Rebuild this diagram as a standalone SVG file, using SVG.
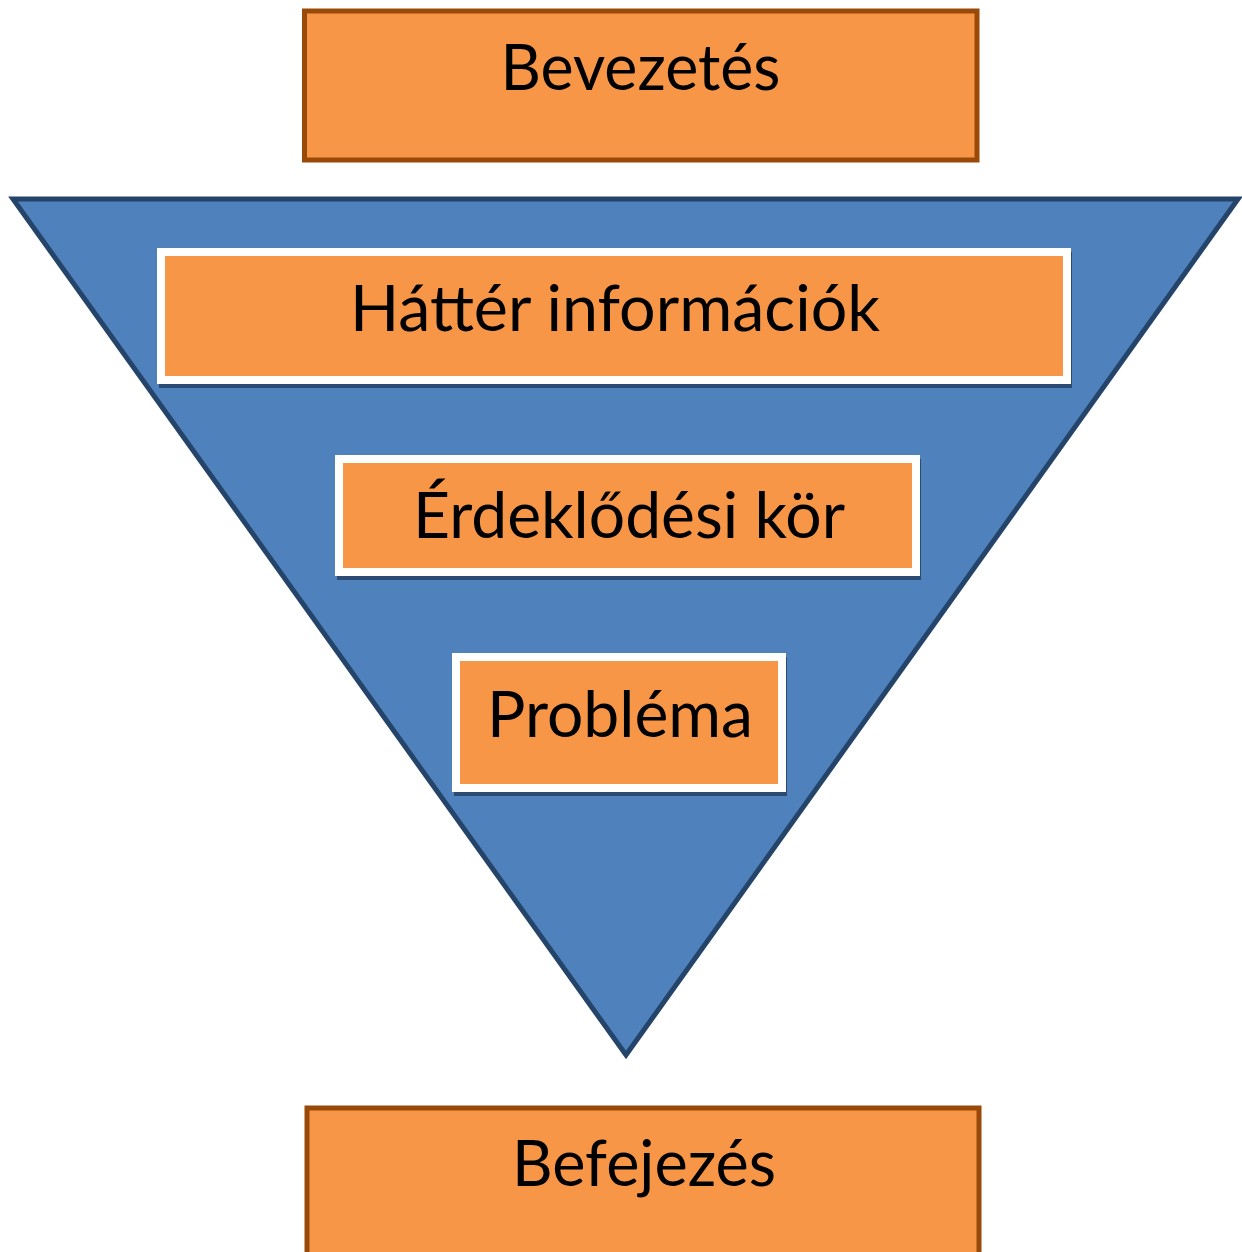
<svg xmlns="http://www.w3.org/2000/svg" width="1242" height="1252" viewBox="0 0 1242 1252">
  <style>
    .outer { fill: #F79646; stroke: #9A4A08; stroke-width: 5; }
    .inner { fill: #F79646; stroke: #FFFFFF; stroke-width: 8; }
    .shadow { fill: #2B4B72; }
    .funnel { fill: #4F81BD; stroke: #254469; stroke-width: 5; stroke-linejoin: miter; }
    .lbl { font-family: Lato, "Open Sans", "Liberation Sans", sans-serif; font-size: 63px; fill: #000000; text-anchor: middle; }
  </style>
  <rect width="1242" height="1252" fill="#FFFFFF"/>
  <g id="bevezetes">
    <rect class="outer" x="304.5" y="11" width="672.5" height="149"/>
    <text class="lbl" x="640.5" y="90" textLength="280" lengthAdjust="spacingAndGlyphs">Bevezetés</text>
  </g>
  <g id="funnel">
    <polygon class="funnel" points="13,199 1238,199 626,1055"/>
  </g>
  <g id="hatter">
    <rect class="shadow" x="159" y="252" width="913" height="136"/>
    <rect class="inner" x="161" y="252" width="906" height="128"/>
    <text class="lbl" x="615" y="331" textLength="530" lengthAdjust="spacingAndGlyphs">Háttér információk</text>
  </g>
  <g id="erdeklodesi">
    <rect class="shadow" x="337" y="459" width="584" height="121"/>
    <rect class="inner" x="339" y="459" width="577" height="113"/>
    <text class="lbl" x="629" y="538" textLength="432" lengthAdjust="spacingAndGlyphs">Érdeklődési kör</text>
  </g>
  <g id="problema">
    <rect class="shadow" x="454" y="657" width="333" height="139"/>
    <rect class="inner" x="456" y="657" width="326" height="131"/>
    <text class="lbl" x="620" y="737" textLength="266" lengthAdjust="spacingAndGlyphs">Probléma</text>
  </g>
  <g id="befejezes">
    <rect class="outer" x="307" y="1108" width="672" height="160"/>
    <text class="lbl" x="644" y="1186" textLength="264" lengthAdjust="spacingAndGlyphs">Befejezés</text>
  </g>
  <g id="connectors"/>
</svg>
